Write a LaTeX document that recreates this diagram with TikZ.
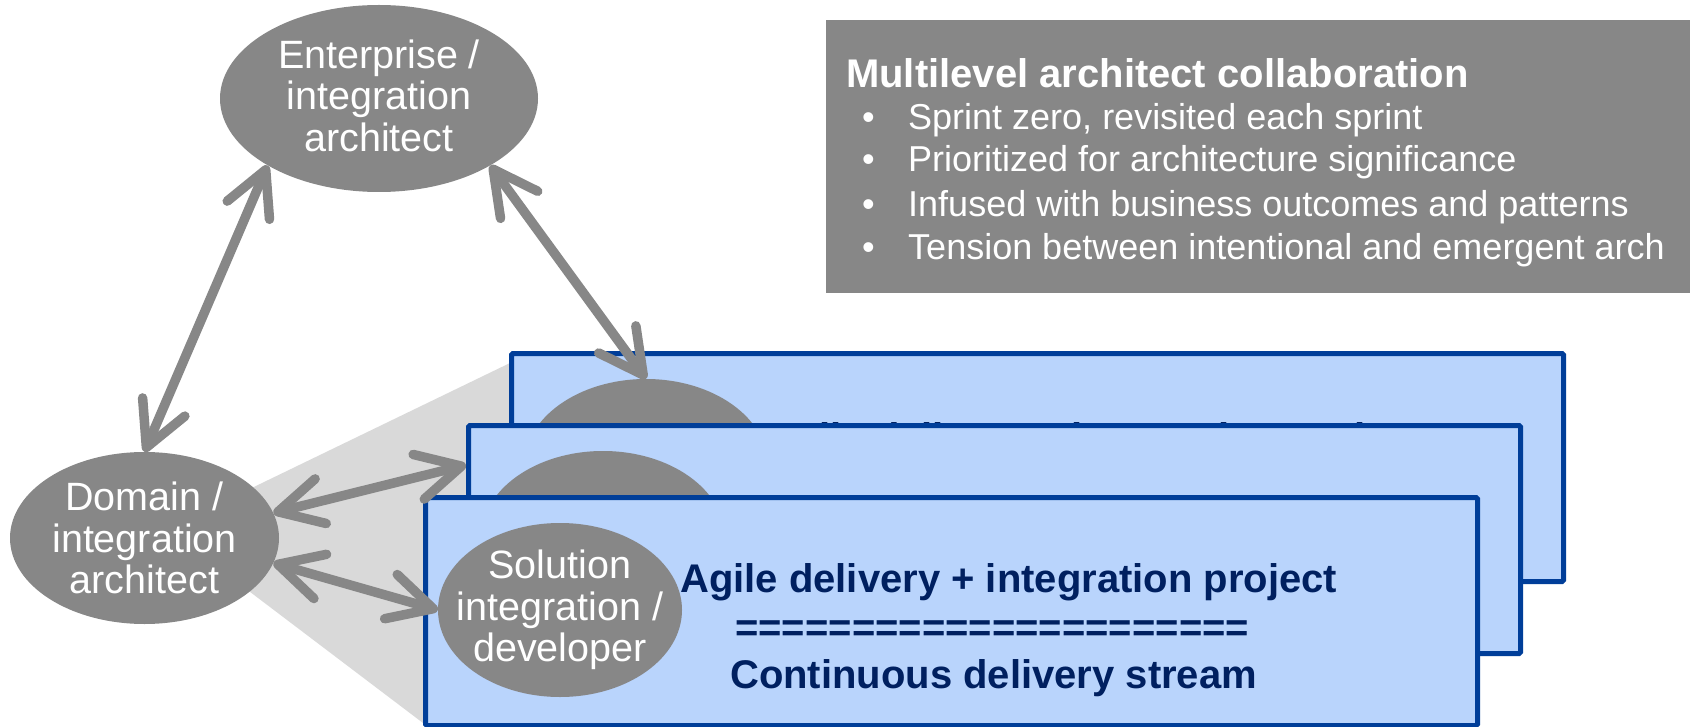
\documentclass[tikz,border=0pt]{standalone}
\usepackage{fontspec}
\setmainfont{Liberation Sans}
\usetikzlibrary{shapes.geometric,arrows.meta,calc}
\definecolor{ellgray}{HTML}{878787}
\definecolor{shadegray}{HTML}{D9D9D9}
\definecolor{panelfill}{HTML}{B9D4FC}
\definecolor{panelline}{HTML}{003E99}
\definecolor{navy}{HTML}{002060}
\begin{document}
\begin{tikzpicture}[x=1pt,y=-1pt,
  ell/.style={ellipse, fill=ellgray, inner sep=0pt},
  elltext/.style={text=white, align=center, font=\fontsize{39.5}{41.5}\selectfont, inner sep=0pt},
  panel/.style={rectangle, draw=panelline, line width=5pt, fill=panelfill, rounded corners=1.5pt, anchor=north west, minimum width=1052pt, minimum height=228pt, inner sep=0pt},
  paneltext/.style={text=navy, font=\fontsize{40}{40}\selectfont\bfseries, anchor=base west, inner sep=0pt},
  infobox/.style={rectangle, fill=ellgray, anchor=north west, minimum width=864pt, minimum height=273pt, inner sep=0pt},
  boxtitle/.style={text=white, font=\fontsize{40}{42}\selectfont\bfseries, anchor=base west, inner sep=0pt},
  boxitem/.style={text=white, font=\fontsize{36}{42}\selectfont, anchor=base west, inner sep=0pt},
  link/.style={draw=ellgray, line width=9.5pt, {Straight Barb[length=44pt,width=46pt,round]}-{Straight Barb[length=44pt,width=46pt,round]}}
]
\useasboundingbox (0,0) rectangle (1694,727);

% info box
\node[infobox] (box) at (826,20) {};
\node[boxtitle] (btitle) at (846,88) {Multilevel architect collaboration};
\node[boxitem] (b1) at (862,130) {\textbullet};
\node[boxitem] (t1) at (908,130) {Sprint zero, revisited each sprint};
\node[boxitem] (b2) at (862,172) {\textbullet};
\node[boxitem] (t2) at (908,172) {Prioritized for architecture significance};
\node[boxitem] (b3) at (862,217) {\textbullet};
\node[boxitem] (t3) at (908,217) {Infused with business outcomes and patterns};
\node[boxitem] (b4) at (862,260) {\textbullet};
\node[boxitem] (t4) at (908,260) {Tension between intentional and emergent arch};

% projection shade
\fill[shadegray] (167,529) -- (510,363) -- (510,723) -- (423,723) -- cycle;

% back panel
\node[panel] (backpanel) at (509,351) {};
\node[ell, minimum width=244pt, minimum height=174pt] (backell) at (646,466) {};
\node[paneltext] (backtext) at (766,451) {Agile delivery + integration project};

% middle panel
\node[panel] (midpanel) at (466,423) {};
\node[ell, minimum width=244pt, minimum height=174pt] (midell) at (603,538) {};

% front panel
\node[panel] (front) at (423,495) {};
\node[ell, minimum width=244pt, minimum height=174pt] (sol) at (560,610) {};
\node[elltext] (soltext) at (sol.center) {Solution\\integration /\\developer};
\node[paneltext] (ftext1) at (680,592) {Agile delivery + integration project};
\node[paneltext] (ftext2) at (735,641) {======================};
\node[paneltext] (ftext3) at (730,688) {Continuous delivery stream};

% architects
\node[ell, minimum width=318pt, minimum height=187pt] (ent) at (379,98.5) {};
\node[elltext] (enttext) at ([yshift=3pt]ent.center) {Enterprise /\\integration\\architect};
\node[ell, minimum width=269pt, minimum height=172pt] (dom) at (144.5,538) {};
\node[elltext] (domtext) at (dom.center) {Domain /\\integration\\architect};

% connectors
\coordinate (midin) at ($(midpanel.north west)+(0,42)$);
\draw[link] (dom.north) -- (ent.211);
\draw[link] (ent.329.5) -- (backell.north);
\draw[link] (dom.11.5) -- (midin);
\draw[link] (dom.349) -- (sol.west);
\end{tikzpicture}
\end{document}
